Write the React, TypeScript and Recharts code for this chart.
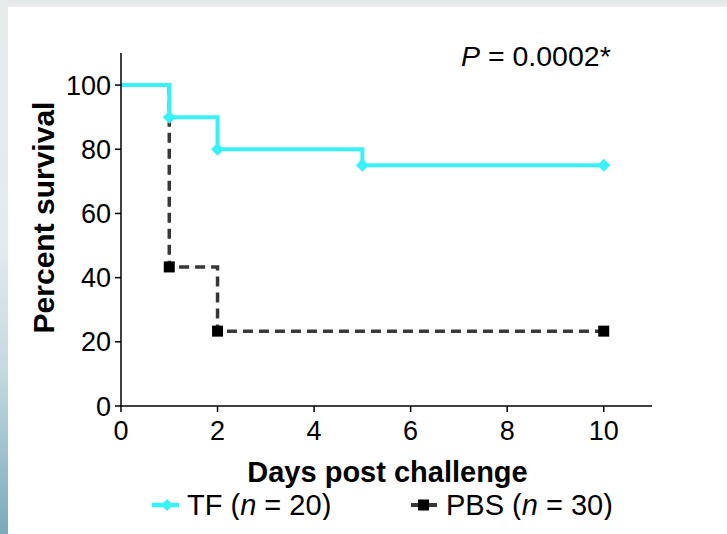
import { Customized, Legend, Line, LineChart, XAxis, YAxis } from 'recharts';

const tfDays = [0, 1, 2, 5, 10];
const tfSurvival = [100, 90, 80, 75, 75];
const pbsDays = [0, 1, 2, 10];
const pbsSurvival = [100, 43.33, 23.33, 23.33];
const xTicks = [0, 2, 4, 6, 8, 10];
const yTicks = [0, 20, 40, 60, 80, 100];
const groupNames = ['TF', 'PBS'];
const groupN = [20, 30];
const pValue = '0.0002*';

const tfData = tfDays.map((day, i) => ({ day, survival: tfSurvival[i] }));
const pbsData = pbsDays.map((day, i) => ({ day, survival: pbsSurvival[i] }));

const CYAN = '#38f2fa';
const DARK = '#383838';
const FONT = '"Liberation Sans", Arial, sans-serif';

const diamond = (cx: number, cy: number, r: number) =>
  `M${cx},${cy - r}L${cx + r},${cy}L${cx},${cy + r}L${cx - r},${cy}Z`;

const tfDot = (props: any) => {
  const { cx, cy, payload, index } = props;
  if (payload.day === 0) return <g key={`tf-${index}`} />;
  return <path key={`tf-${index}`} d={diamond(cx, cy, 6.5)} fill={CYAN} />;
};

const pbsDot = (props: any) => {
  const { cx, cy, payload, index } = props;
  if (payload.day === 0) return <g key={`pbs-${index}`} />;
  return <rect key={`pbs-${index}`} x={cx - 5.5} y={cy - 5.5} width={11} height={11} fill="#000" />;
};

const renderLegend = () => (
  <svg width={727} height={40} style={{ display: 'block', fontFamily: FONT }}>
    <line x1={152} x2={179} y1={25} y2={25} stroke={CYAN} strokeWidth={4.5} />
    <path d={diamond(167, 25, 6)} fill={CYAN} />
    <text x={187} y={35} fontSize={29} fill="#000">
      {groupNames[0]} (<tspan fontStyle="italic">n</tspan> = {groupN[0]})
    </text>
    <line x1={411} x2={437} y1={25} y2={25} stroke={DARK} strokeWidth={4} />
    <rect x={418} y={19.5} width={11} height={11} fill="#000" />
    <text x={446} y={35} fontSize={29} fill="#000">
      {groupNames[1]} (<tspan fontStyle="italic">n</tspan> = {groupN[1]})
    </text>
  </svg>
);

export default function App() {
  return (
    <div
      style={{
        position: 'absolute',
        left: 0,
        top: 0,
        width: 727,
        height: 534,
        background: '#fff',
        overflow: 'hidden',
        fontFamily: FONT,
      }}
    >
      <div
        style={{
          position: 'absolute',
          left: 0,
          top: 0,
          width: 727,
          height: 7,
          background: 'linear-gradient(#e2e5e6, #eceeef)',
        }}
      />
      <div
        style={{
          position: 'absolute',
          left: 0,
          top: 0,
          width: 8,
          height: 534,
          background: 'linear-gradient(#e8ebec 0%, #e4ebee 45%, #c3d9e0 70%, #78aabb 100%)',
        }}
      />
      <div style={{ position: 'absolute', left: 0, top: 0 }}>
        <LineChart width={727} height={534} margin={{ top: 53, right: 75, bottom: 68, left: 11 }}>
          <XAxis
            type="number"
            dataKey="day"
            domain={[0, 11]}
            ticks={xTicks}
            height={60}
            stroke="#000"
            strokeWidth={1.5}
            tickSize={6}
            tickMargin={9}
            tick={{ fill: '#000', fontSize: 27, fontFamily: FONT }}
            label={{
              content: (p: any) => {
                const vb = p.viewBox;
                return (
                  <text
                    x={vb.x + vb.width / 2 + 1}
                    y={vb.y + 76}
                    textAnchor="middle"
                    fontSize={29}
                    fontWeight="bold"
                    fontFamily={FONT}
                    fill="#000"
                  >
                    Days post challenge
                  </text>
                );
              },
            }}
          />
          <YAxis
            type="number"
            domain={[0, 110]}
            ticks={yTicks}
            width={110}
            stroke="#000"
            strokeWidth={1.5}
            tickSize={6}
            tickMargin={4}
            tick={{ fill: '#000', fontSize: 27, fontFamily: FONT }}
            label={{
              content: (p: any) => {
                const vb = p.viewBox;
                const cx = vb.x + 32;
                const cy = vb.y + vb.height / 2 - 12;
                return (
                  <text
                    x={cx}
                    y={cy}
                    transform={`rotate(-90 ${cx} ${cy})`}
                    textAnchor="middle"
                    dominantBaseline="central"
                    fontSize={30}
                    fontWeight="bold"
                    fontFamily={FONT}
                    fill="#000"
                  >
                    Percent survival
                  </text>
                );
              },
            }}
          />
          <Line
            data={pbsData}
            dataKey="survival"
            name={groupNames[1]}
            type="stepAfter"
            stroke={DARK}
            strokeWidth={3.5}
            strokeDasharray="10 6"
            dot={pbsDot}
            activeDot={false}
            isAnimationActive={false}
          />
          <Line
            data={tfData}
            dataKey="survival"
            name={groupNames[0]}
            type="stepAfter"
            stroke={CYAN}
            strokeWidth={4}
            dot={tfDot}
            activeDot={false}
            isAnimationActive={false}
          />
          <Legend
            verticalAlign="middle"
            align="center"
            layout="horizontal"
            content={renderLegend}
            wrapperStyle={{ position: 'absolute', top: 480, left: 0, width: 727, height: 40 }}
          />
          <Customized
            component={() => (
              <text x={461} y={66} fontSize={28.5} fontFamily={FONT} fill="#000">
                <tspan fontStyle="italic">P</tspan> = {pValue}
              </text>
            )}
          />
        </LineChart>
      </div>
    </div>
  );
}
